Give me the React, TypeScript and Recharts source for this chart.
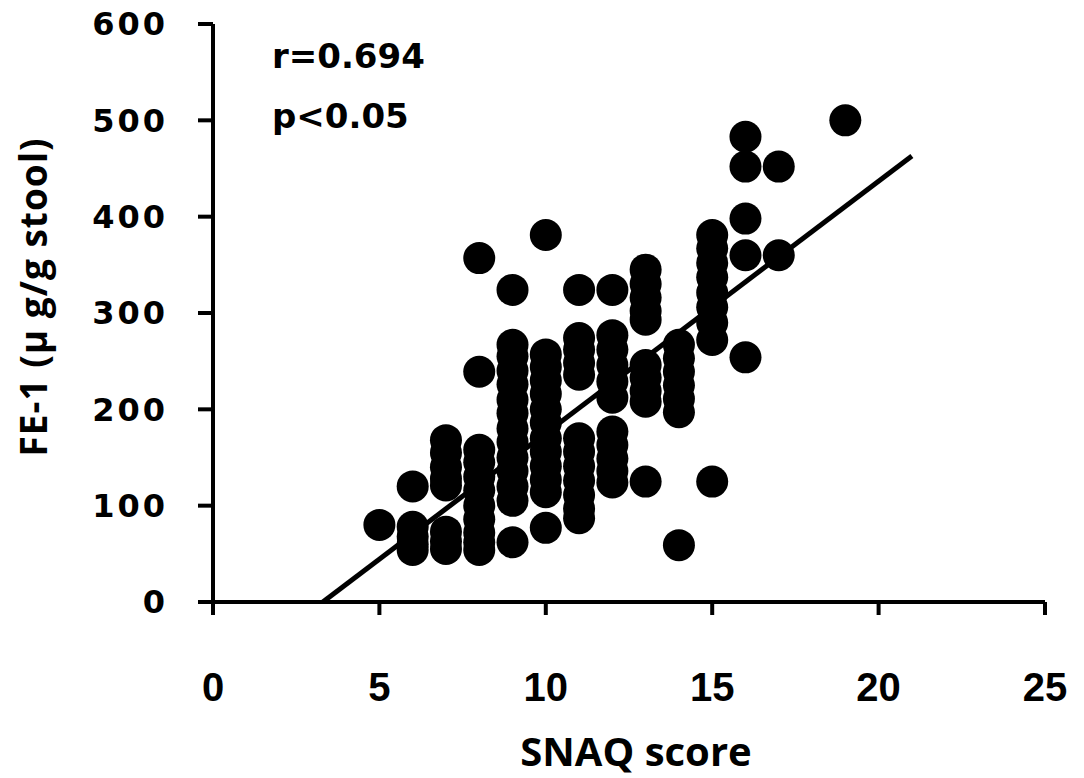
import { ScatterChart, Scatter, XAxis, YAxis } from "recharts"

// SNAQ score columns and the FE-1 values
const scores = [5, 6, 7, 8, 9, 10, 11, 12, 13, 14, 15, 16, 17, 19]
const fe1Values = [
  [80],
  [120, 78, 68, 60, 54],
  [168, 155, 140, 128, 121, 73, 63, 55],
  [357, 239, 158, 145, 130, 116, 100, 86, 72, 62, 54],
  [324, 267, 255, 240, 226, 210, 196, 180, 166, 150, 136, 120, 105, 62],
  [381, 257, 244, 230, 216, 200, 186, 170, 156, 141, 127, 114, 77],
  [324, 274, 262, 248, 236, 170, 156, 141, 126, 111, 97, 87],
  [324, 277, 262, 246, 229, 212, 177, 163, 149, 136, 124],
  [345, 330, 316, 302, 293, 246, 233, 219, 208, 125],
  [267, 253, 239, 225, 211, 197, 59],
  [381, 367, 352, 337, 321, 306, 290, 272, 125],
  [483, 452, 398, 360, 254],
  [452, 360],
  [500],
]

// regression line end points
const fitX = [3.3, 21]
const fitY = [0, 463]

const xTicks = [0, 5, 10, 15, 20, 25]
const yTicks = [0, 100, 200, 300, 400, 500, 600]

const points = scores.flatMap((s, i) => fe1Values[i].map((v) => ({ x: s, y: v })))
const fitLine = fitX.map((x, i) => ({ x, y: fitY[i] }))

const Dot = (props: any) => <circle cx={props.cx} cy={props.cy} r={16} fill="#000" />

export default function App() {
  return (
    <div style={{ position: "relative", width: 1084, height: 778 }}>
      <style>{"body{margin:0;background:#fff}"}</style>
      <ScatterChart width={1084} height={778} margin={{ top: 24, right: 39, left: 0, bottom: 0 }}>
        <XAxis
          type="number"
          dataKey="x"
          domain={[0, 25]}
          ticks={xTicks}
          height={176}
          tickSize={13}
          tickMargin={58}
          axisLine={{ stroke: "#000", strokeWidth: 4 }}
          tickLine={{ stroke: "#000", strokeWidth: 4 }}
          tick={{ fill: "#000", fontSize: 40, fontWeight: "bold", fontFamily: "Liberation Sans, Arial, sans-serif" }}
        />
        <YAxis
          type="number"
          dataKey="y"
          domain={[0, 600]}
          ticks={yTicks}
          width={213}
          tickSize={15}
          tickMargin={30}
          axisLine={{ stroke: "#000", strokeWidth: 4 }}
          tickLine={{ stroke: "#000", strokeWidth: 4 }}
          tick={{ fill: "#000", fontSize: 32, fontWeight: "bold", fontFamily: "DejaVu Sans, sans-serif", letterSpacing: 3 }}
        />
        <Scatter
          data={fitLine}
          line={{ stroke: "#000", strokeWidth: 5 }}
          shape={() => <g />}
          isAnimationActive={false}
        />
        <Scatter data={points} shape={Dot} isAnimationActive={false} />
      </ScatterChart>
      <svg width={1084} height={778} style={{ position: "absolute", left: 0, top: 0, pointerEvents: "none" }}>
        <g fontFamily="DejaVu Sans, sans-serif" fontWeight="bold" fontSize={34} fill="#000">
          <text x={272} y={68}>r=0.694</text>
          <text x={272} y={128}>p&lt;0.05</text>
        </g>
        <text
          x={47}
          y={297}
          transform="rotate(-90 47 297)"
          textAnchor="middle"
          fontFamily="Open Sans, sans-serif"
          fontWeight="bold"
          fontSize={37}
          letterSpacing={1}
          fill="#000"
        >
          FE-1 (μ g/g stool)
        </text>
        <text
          x={636}
          y={766}
          textAnchor="middle"
          fontFamily="Open Sans, sans-serif"
          fontWeight="bold"
          fontSize={40}
          fill="#000"
        >
          SNAQ score
        </text>
      </svg>
    </div>
  )
}
